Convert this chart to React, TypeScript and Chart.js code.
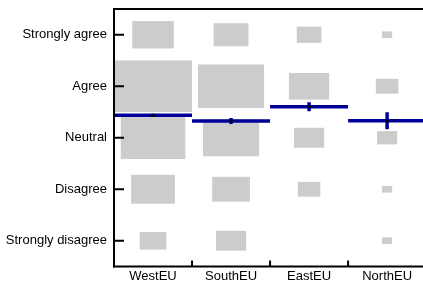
import React, { useEffect, useRef } from "react";
import { Chart, registerables } from "chart.js";

Chart.register(...registerables);

const regions = ["WestEU", "SouthEU", "EastEU", "NorthEU"];
const levels = ["Strongly disagree", "Disagree", "Neutral", "Agree", "Strongly agree"];

// counts per level: [Strongly disagree, Disagree, Neutral, Agree, Strongly agree]
const westEU = [7, 19, 41, 60, 17];
const southEU = [9, 14, 31, 43, 12];
const eastEU = [0, 5, 9, 16, 6];
const northEU = [1, 1, 4, 5, 1];

const meanScores = [3.436, 3.325, 3.603, 3.331];
const ciHalf = [0.03, 0.058, 0.087, 0.165];

const counts = [westEU, southEU, eastEU, northEU];

const GRAY = "#cccccc";
const BLUE = "#000099";

const mosaicPlugin = {
  id: "mosaic",
  beforeDatasetsDraw(chart: any) {
    const { ctx, scales } = chart;
    const x = scales.x;
    const y = scales.y;
    const maxC = Math.max(...counts.flat());
    ctx.save();
    ctx.fillStyle = GRAY;
    counts.forEach((col, i) =>
      col.forEach((c, j) => {
        if (!c) return;
        const s = Math.sqrt(c / maxC) / 2;
        const x0 = x.getPixelForValue(i + 1 - s);
        const x1 = x.getPixelForValue(i + 1 + s);
        const y0 = y.getPixelForValue(j + 1 + s);
        const y1 = y.getPixelForValue(j + 1 - s);
        ctx.fillRect(x0, y0, x1 - x0, y1 - y0);
      })
    );
    ctx.restore();
  },
  afterDatasetsDraw(chart: any) {
    const { ctx, chartArea, scales } = chart;
    const x = scales.x;
    const y = scales.y;
    const line = (a: number, b: number, c: number, d: number) => {
      ctx.beginPath();
      ctx.moveTo(a, b);
      ctx.lineTo(c, d);
      ctx.stroke();
    };
    ctx.save();
    ctx.strokeStyle = "#000";
    ctx.lineWidth = 2;
    levels.forEach((_, j) => {
      const py = y.getPixelForValue(j + 1);
      line(chartArea.left, py, chartArea.left + 10, py);
    });
    for (let i = 1; i < regions.length; i++) {
      const px = x.getPixelForValue(i + 0.5);
      line(px, chartArea.bottom - 6, px, chartArea.bottom);
    }
    line(chartArea.left - 1, chartArea.top, chartArea.right + 1, chartArea.top);
    line(chartArea.left, chartArea.top - 1, chartArea.left, chartArea.bottom + 1);
    line(chartArea.left - 1, chartArea.bottom, chartArea.right + 1, chartArea.bottom);
    ctx.restore();
  },
};

export default function App() {
  const ref = useRef<HTMLCanvasElement | null>(null);
  useEffect(() => {
    if (!ref.current) return;
    const meanLines = regions.map((_, i) => ({
      type: "line" as const,
      data: [
        { x: i + 0.5, y: meanScores[i] },
        { x: i + 1.5, y: meanScores[i] },
      ],
      borderColor: BLUE,
      borderWidth: 3.5,
      pointRadius: 0,
      borderCapStyle: "butt" as const,
      order: 2,
    }));
    const errBars = regions.map((_, i) => ({
      type: "line" as const,
      data: [
        { x: i + 1, y: meanScores[i] - ciHalf[i] },
        { x: i + 1, y: meanScores[i] + ciHalf[i] },
      ],
      borderColor: BLUE,
      borderWidth: 3.5,
      pointRadius: 0,
      borderCapStyle: "butt" as const,
      order: 1,
    }));
    const dots = {
      type: "scatter" as const,
      data: regions.map((_, i) => ({ x: i + 1, y: meanScores[i] })),
      backgroundColor: "#000",
      borderWidth: 0,
      pointRadius: 1.6,
      order: 0,
    };
    const font = { family: "'Liberation Sans', Arial, sans-serif", size: 13 };
    const chart = new Chart(ref.current, {
      type: "scatter",
      data: { datasets: [dots, ...errBars, ...meanLines] as any },
      options: {
        animation: false,
        responsive: false,
        events: [],
        layout: { autoPadding: false, padding: { top: 9, right: 0, left: 0, bottom: 0 } },
        plugins: { legend: { display: false }, tooltip: { enabled: false } },
        scales: {
          x: {
            type: "linear",
            min: 0.5,
            max: 4.46,
            grid: { display: false, drawTicks: false },
            border: { display: false },
            afterBuildTicks: (s: any) => {
              s.ticks = regions.map((_, i) => ({ value: i + 1 }));
            },
            afterFit: (s: any) => {
              s.height = 17.5;
              s.paddingLeft = 0;
              s.paddingRight = 0;
            },
            ticks: {
              padding: 2,
              font,
              color: "#000",
              autoSkip: false,
              maxRotation: 0,
              callback: (v: any) => regions[Math.round(Number(v)) - 1] ?? "",
            },
          },
          y: {
            type: "linear",
            min: 0.5,
            max: 5.5,
            grid: { display: false, drawTicks: false },
            border: { display: false },
            afterBuildTicks: (s: any) => {
              s.ticks = levels.map((_, j) => ({ value: j + 1 }));
            },
            afterFit: (s: any) => {
              s.width = 114;
              s.paddingTop = 0;
              s.paddingBottom = 0;
            },
            ticks: {
              padding: 7,
              font,
              color: "#000",
              autoSkip: false,
              callback: (v: any) => levels[Math.round(Number(v)) - 1] ?? "",
            },
          },
        },
      },
      plugins: [mosaicPlugin],
    });
    return () => chart.destroy();
  }, []);
  return (
    <div style={{ position: "fixed", left: 0, top: 0, width: 423, height: 284, background: "#fff" }}>
      <canvas ref={ref} width={423} height={284} style={{ width: 423, height: 284, display: "block" }} />
    </div>
  );
}
